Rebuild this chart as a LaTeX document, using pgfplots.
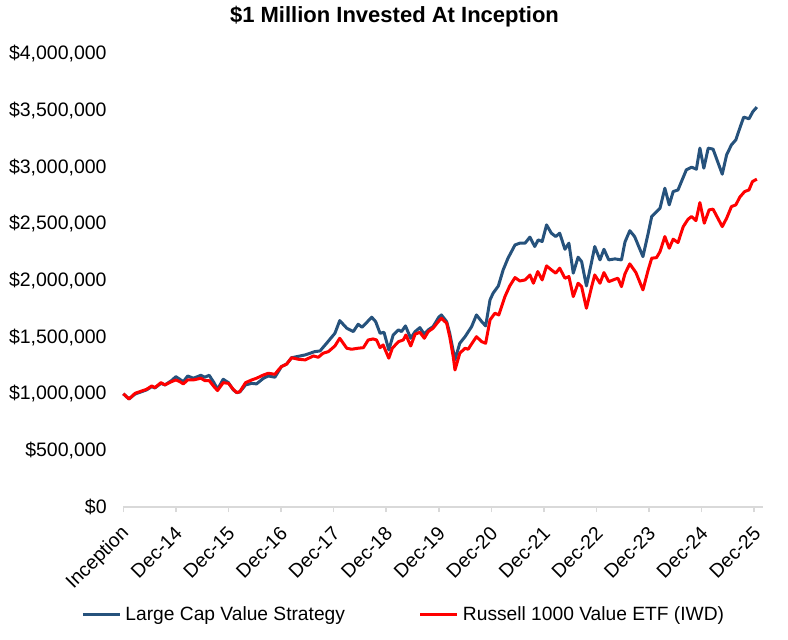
\documentclass[border=0pt]{standalone}
\usepackage{pgfplots}
\pgfplotsset{compat=1.18}
\usepackage{fontspec}
\setmainfont{Liberation Sans}
\definecolor{lcv}{RGB}{38,82,124}
\definecolor{axgray}{RGB}{217,217,217}

\pgfplotstableread{
m v
0 1000000
1.3 954000
2.7 998000
3.8 1013000
5.3 1034000
6.5 1063000
7.2 1051000
8.6 1092000
9.5 1078000
11.0 1116000
12.0 1151000
12.9 1128000
13.7 1107000
14.7 1157000
16.0 1137000
17.7 1163000
18.6 1146000
19.6 1163000
20.7 1098000
21.5 1039000
22.8 1128000
24.0 1098000
25.1 1034000
25.9 1010000
26.6 1016000
27.9 1078000
29.3 1092000
30.4 1087000
32.0 1137000
33.1 1157000
34.6 1146000
35.4 1196000
36.1 1240000
37.3 1263000
38.4 1318000
41.5 1343000
43.7 1372000
44.9 1378000
46.4 1446000
48.3 1534000
49.4 1646000
51.0 1579000
52.5 1549000
53.6 1614000
54.5 1587000
56.7 1676000
57.6 1637000
58.6 1534000
59.5 1543000
60.6 1387000
61.6 1519000
62.8 1564000
63.5 1549000
64.4 1599000
65.6 1490000
66.6 1549000
67.7 1584000
68.7 1526000
69.6 1564000
70.7 1593000
72.0 1676000
72.6 1696000
73.8 1637000
74.5 1534000
75.7 1300000
76.8 1446000
78.0 1504000
79.5 1593000
80.6 1696000
81.8 1637000
82.7 1599000
83.7 1829000
84.4 1888000
85.6 1952000
86.7 2094000
87.8 2197000
89.4 2314000
90.5 2330000
91.7 2330000
92.8 2383000
93.9 2300000
94.7 2359000
95.6 2344000
96.6 2491000
97.7 2418000
98.7 2388000
99.6 2418000
100.8 2276000
101.7 2330000
102.7 2065000
103.8 2206000
104.6 2167000
105.7 1952000
106.9 2167000
107.6 2300000
108.8 2182000
109.7 2276000
110.8 2182000
112.2 2191000
113.7 2182000
114.5 2340000
115.6 2440000
116.7 2388000
118.6 2211000
119.8 2418000
120.6 2565000
122.5 2639000
123.6 2815000
124.6 2668000
125.5 2785000
126.6 2800000
128.5 2977000
129.7 3001000
130.8 2983000
131.6 3169000
132.5 2992000
133.5 3169000
134.6 3160000
136.7 2939000
137.7 3110000
138.8 3198000
139.8 3242000
140.7 3345000
141.6 3443000
142.8 3428000
143.7 3492000
144.6 3531000
}\lcvdata

\pgfplotstableread{
m v
0 1000000
1.3 954000
2.7 1004000
3.8 1019000
5.3 1039000
6.5 1069000
7.2 1054000
8.6 1098000
9.5 1078000
11.0 1107000
12.0 1122000
12.9 1107000
13.7 1087000
14.7 1122000
16.0 1122000
17.7 1137000
18.6 1116000
19.6 1116000
20.7 1063000
21.5 1028000
22.8 1098000
24.0 1092000
25.1 1039000
25.9 1010000
26.6 1019000
27.9 1098000
29.3 1122000
30.4 1137000
32.0 1166000
33.1 1181000
34.6 1172000
35.4 1210000
36.1 1240000
37.3 1263000
38.4 1318000
39.9 1305000
41.5 1299000
43.4 1334000
44.5 1322000
45.6 1358000
46.8 1372000
48.3 1422000
49.4 1490000
51.0 1402000
52.1 1393000
53.6 1402000
54.8 1407000
55.9 1475000
57.0 1484000
57.8 1475000
58.6 1407000
59.3 1431000
60.6 1314000
61.4 1402000
62.8 1460000
63.9 1475000
64.5 1519000
65.6 1422000
66.6 1526000
67.7 1543000
68.7 1490000
69.6 1549000
70.7 1579000
71.9 1637000
72.6 1667000
73.8 1623000
74.5 1504000
75.3 1328000
75.7 1210000
76.8 1358000
78.0 1402000
78.7 1393000
80.6 1504000
81.8 1460000
82.7 1446000
83.7 1652000
84.8 1711000
85.7 1696000
87.1 1858000
88.2 1952000
89.4 2026000
90.5 1996000
91.7 2005000
92.8 2049000
93.6 1976000
94.6 2079000
95.6 2005000
96.6 2129000
97.7 2094000
98.7 2065000
99.6 2109000
100.8 2020000
101.7 2035000
102.7 1858000
103.8 1976000
104.6 1946000
105.7 1755000
106.9 1946000
107.6 2049000
108.8 1976000
109.7 2070000
110.8 1990000
112.2 2011000
112.9 2020000
113.7 1946000
114.5 2060000
115.6 2147000
117.0 2070000
118.6 1917000
119.8 2094000
120.6 2197000
121.7 2202000
122.5 2255000
123.6 2388000
124.6 2285000
125.5 2365000
126.6 2335000
127.8 2476000
128.9 2541000
129.7 2565000
130.7 2529000
131.6 2688000
132.6 2506000
133.7 2624000
134.6 2630000
136.7 2476000
137.7 2550000
138.8 2653000
139.8 2668000
140.7 2736000
141.8 2785000
142.8 2800000
143.6 2874000
144.6 2895000
}\iwddata

\begin{document}
\begin{tikzpicture}[x=1pt,y=1pt]
\path[use as bounding box] (-61.65,-66) rectangle (332.35,253.5);
\begin{axis}[
  at={(0,0)}, anchor=south west,
  scale only axis, width=319.85pt, height=226.5pt,
  xmin=0, xmax=146, ymin=0, ymax=4000000,
  axis x line*=bottom, axis y line*=left,
  y axis line style={draw=none},
  x axis line style={draw=axgray, line width=0.75pt},
  xtick={0,12,24,36,48,60,72,84,96,108,120,132,144},
  xticklabels={Inception,Dec-14,Dec-15,Dec-16,Dec-17,Dec-18,Dec-19,Dec-20,Dec-21,Dec-22,Dec-23,Dec-24,Dec-25},
  xtick align=outside,
  major tick length=2.5pt,
  xtick style={draw=axgray, line width=0.75pt},
  ytick={0,500000,1000000,1500000,2000000,2500000,3000000,3500000,4000000},
  yticklabels={{\$0},{\$500,000},{\$1,000,000},{\$1,500,000},{\$2,000,000},{\$2,500,000},{\$3,000,000},{\$3,500,000},{\$4,000,000}},
  ytick style={draw=none},
  scaled y ticks=false,
  tick label style={font=\fontsize{9.75}{11}\selectfont},
  yticklabel style={anchor=east, inner sep=0pt, xshift=-8.15pt},
  xticklabel style={xshift=1.5pt, yshift=-9pt, rotate=45, anchor=east, inner sep=0pt},
  clip=false,
  legend columns=2,
  legend style={at={(-0.066,-0.2375)}, anchor=west, draw=none, fill=none,
    font=\fontsize{9.6}{11}\selectfont, inner xsep=0pt, inner ysep=0pt,
    /tikz/every even column/.append style={column sep=35pt}},
  legend image code/.code={\draw[#1] (0pt,0pt) -- (18.5pt,0pt);},
]
\addplot[lcv, line width=1.5pt, line join=round] table[x=m,y=v] {\lcvdata};
\addlegendentry{Large Cap Value Strategy}
\addplot[red, line width=1.5pt, line join=round] table[x=m,y=v] {\iwddata};
\addlegendentry{Russell 1000 Value ETF (IWD)}
\end{axis}
\node[font=\bfseries\fontsize{11}{13}\selectfont] at (135.6,245) {\$1 Million Invested At Inception};
\end{tikzpicture}
\end{document}
